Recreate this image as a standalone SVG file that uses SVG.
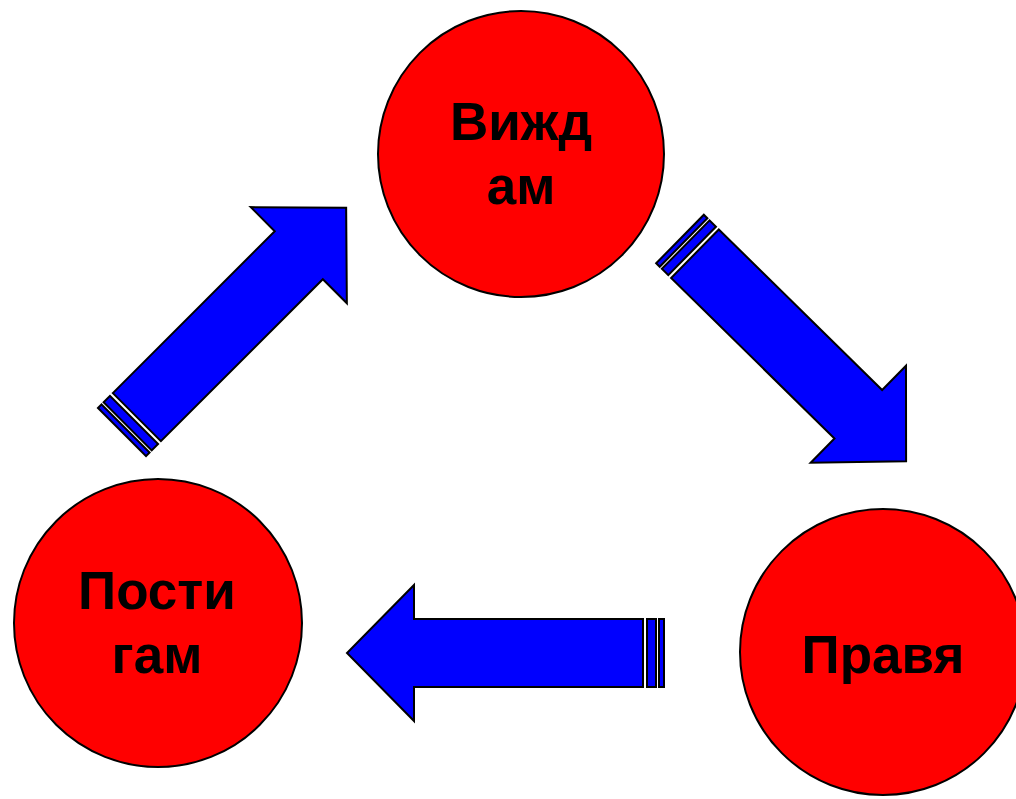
<svg xmlns="http://www.w3.org/2000/svg" width="1016" height="799" viewBox="0 0 1016 799">
<style>
.node circle{fill:#ff0000;stroke:#000;stroke-width:2}
.node text{font-family:"Liberation Sans",Arial,sans-serif;font-weight:bold;font-size:53px;fill:#000;text-anchor:middle}
.arr{fill:#0000ff;stroke:#000;stroke-width:2;stroke-linejoin:miter}
</style>
<defs>
<g id="arrow">
<rect class="arr" x="0" y="-34" width="5" height="68"/>
<rect class="arr" x="8" y="-34" width="9" height="68"/>
<polygon class="arr" points="21,-34 250,-34 250,-68 317,0 250,68 250,34 21,34"/>
</g>
</defs>
<g id="connectors">
<use href="#arrow" transform="translate(122,432) rotate(-45)"/>
<use href="#arrow" transform="translate(680,239) rotate(44.5)"/>
<use href="#arrow" transform="translate(664,653) rotate(180)"/>
</g>
<g id="node-vizhdam" class="node">
<circle cx="521" cy="154" r="143"/>
<text x="521" y="140">Вижд</text>
<text x="521" y="204">ам</text>
</g>
<g id="node-pravya" class="node">
<circle cx="883" cy="652" r="143"/>
<text x="883" y="673">Правя</text>
</g>
<g id="node-postigam" class="node">
<circle cx="158" cy="623" r="144"/>
<text x="157" y="609">Пости</text>
<text x="157" y="673">гам</text>
</g>
</svg>
